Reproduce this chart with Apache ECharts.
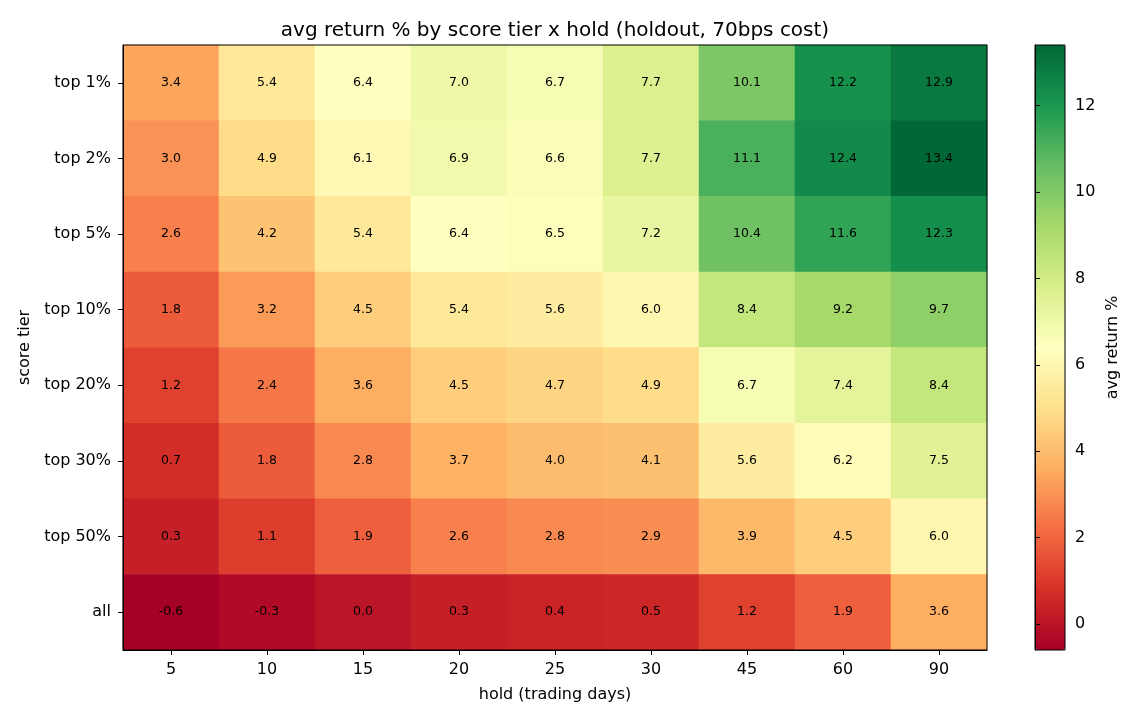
<!DOCTYPE html>
<html>
<head>
<meta charset="utf-8">
<script src="https://cdn.jsdelivr.net/npm/echarts@6/dist/echarts.min.js"></script>
<style>
  html, body { margin: 0; padding: 0; background: #fff; }
  #chart { width: 1140px; height: 720px; }
</style>
</head>
<body>
<div id="chart"></div>
<script>
const holds = ['5', '10', '15', '20', '25', '30', '45', '60', '90']
const tiers = ['top 1%', 'top 2%', 'top 5%', 'top 10%', 'top 20%', 'top 30%', 'top 50%', 'all']
// one row per tier, one column per hold
const returns = [
  [3.4, 5.4, 6.4, 7.0, 6.7, 7.7, 10.1, 12.2, 12.9],
  [3.0, 4.9, 6.1, 6.9, 6.6, 7.7, 11.1, 12.4, 13.4],
  [2.6, 4.2, 5.4, 6.4, 6.5, 7.2, 10.4, 11.6, 12.3],
  [1.8, 3.2, 4.5, 5.4, 5.6, 6.0, 8.4, 9.2, 9.7],
  [1.2, 2.4, 3.6, 4.5, 4.7, 4.9, 6.7, 7.4, 8.4],
  [0.7, 1.8, 2.8, 3.7, 4.0, 4.1, 5.6, 6.2, 7.5],
  [0.3, 1.1, 1.9, 2.6, 2.8, 2.9, 3.9, 4.5, 6.0],
  [-0.6, -0.3, 0.0, 0.3, 0.4, 0.5, 1.2, 1.9, 3.6]
]
const colorbarTicks = [0, 2, 4, 6, 8, 10, 12]
const RDYLGN = ['#a50026', '#d73027', '#f46d43', '#fdae61', '#fee08b', '#ffffbf',
  '#d9ef8b', '#a6d96a', '#66bd63', '#1a9850', '#006837']

const flat = returns.flat()
const vmin = Math.min(...flat)
const vmax = Math.max(...flat)

const cells = []
returns.forEach((row, y) => row.forEach((v, x) => cells.push([x, y, v])))

const FONT = '"DejaVu Sans", sans-serif'
const TICK = { show: true, length: 5, lineStyle: { color: '#000', width: 1 } }
const chart = echarts.init(document.getElementById('chart'), null, { renderer: 'canvas' })

chart.setOption({
  animation: false,
  backgroundColor: '#ffffff',
  textStyle: { fontFamily: FONT, color: '#000' },
  title: {
    text: 'avg return % by score tier x hold (holdout, 70bps cost)',
    left: 550,
    textAlign: 'center',
    top: 16,
    textStyle: { fontFamily: FONT, fontSize: 20, fontWeight: 'normal', color: '#000' }
  },
  grid: [
    { left: 123, top: 45, width: 864, height: 605, show: true, z: 10,
      backgroundColor: 'transparent', borderColor: '#000', borderWidth: 1 },
    { left: 1035, top: 45, width: 30, height: 605, show: true, z: 10,
      backgroundColor: 'transparent', borderColor: '#000', borderWidth: 1 }
  ],
  xAxis: [
    {
      type: 'category', data: holds, gridIndex: 0, z: 11,
      name: 'hold (trading days)', nameLocation: 'middle', nameGap: 37,
      nameTextStyle: { fontFamily: FONT, fontSize: 16, color: '#000' },
      axisLine: { show: true, lineStyle: { color: '#000', width: 1 } },
      axisTick: { ...TICK, alignWithLabel: true },
      axisLabel: { fontFamily: FONT, fontSize: 16, color: '#000', margin: 12 },
      splitLine: { show: false }
    },
    { type: 'value', gridIndex: 1, show: false, min: 0, max: 1 }
  ],
  yAxis: [
    {
      type: 'category', data: tiers, gridIndex: 0, inverse: true, z: 11,
      name: 'score tier', nameLocation: 'middle', nameGap: 90, nameRotate: 90,
      nameTextStyle: { fontFamily: FONT, fontSize: 16, color: '#000' },
      axisLine: { show: true, lineStyle: { color: '#000', width: 1 } },
      axisTick: { ...TICK, alignWithLabel: true },
      axisLabel: { fontFamily: FONT, fontSize: 16, color: '#000', margin: 12 },
      splitLine: { show: false }
    },
    {
      type: 'value', gridIndex: 1, position: 'right', min: vmin, max: vmax, z: 11,
      name: 'avg return %', nameLocation: 'middle', nameGap: 40, nameRotate: 90,
      nameTextStyle: { fontFamily: FONT, fontSize: 16, color: '#000' },
      axisLine: { show: true, lineStyle: { color: '#000', width: 1 } },
      axisTick: { ...TICK, customValues: colorbarTicks },
      axisLabel: { fontFamily: FONT, fontSize: 16, color: '#000', margin: 10, customValues: colorbarTicks },
      splitLine: { show: false }
    }
  ],
  visualMap: {
    type: 'continuous',
    seriesIndex: 0,
    min: vmin, max: vmax,
    calculable: false,
    orient: 'vertical',
    left: 1035, top: 45,
    padding: 0,
    itemWidth: 30, itemHeight: 605,
    text: null,
    inRange: { color: RDYLGN }
  },
  series: [{
    type: 'heatmap',
    xAxisIndex: 0, yAxisIndex: 0,
    data: cells,
    itemStyle: { borderWidth: 0 },
    label: {
      show: true,
      fontFamily: FONT, fontSize: 12.5, color: '#000',
      formatter: p => p.value[2].toFixed(1)
    },
    emphasis: { disabled: true }
  }]
})
</script>
</body>
</html>
